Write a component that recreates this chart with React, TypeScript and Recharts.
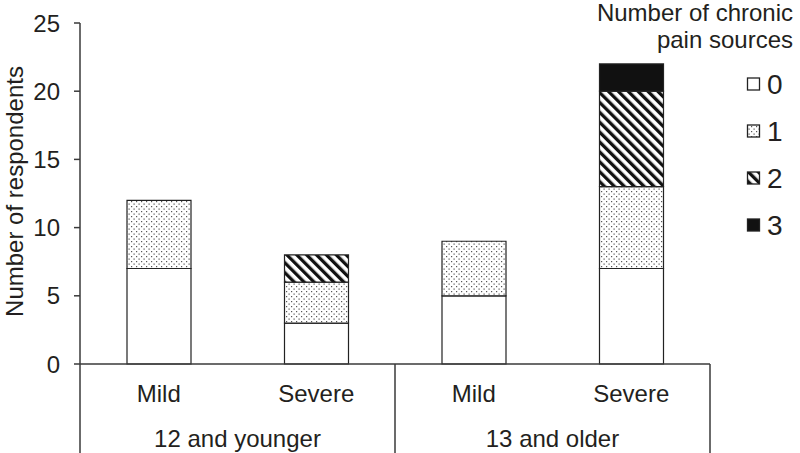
import React from "react";
import { BarChart, Bar, XAxis, YAxis } from "recharts";

const categories = ["Mild", "Severe", "Mild", "Severe"];
const groups = ["12 and younger", "12 and younger", "13 and older", "13 and older"];
const sources0 = [7, 3, 5, 7];
const sources1 = [5, 3, 4, 6];
const sources2 = [0, 2, 0, 7];
const sources3 = [0, 0, 0, 2];
const yTicks = [0, 5, 10, 15, 20, 25];
const legendTitle = ["Number of chronic", "pain sources"];
const legendLabels = ["0", "1", "2", "3"];

const data = categories.map((c, i) => ({
  key: `${groups[i]}-${c}`,
  category: c,
  group: groups[i],
  s0: sources0[i],
  s1: sources1[i],
  s2: sources2[i],
  s3: sources3[i],
}));

const FONT = "'Liberation Sans', Arial, sans-serif";
const TEXT = "#231f20";
const LINE = "#3a3a3a";
const FS = 24;

const fills = ["#ffffff", "url(#dotsC)", "url(#stripesC)", "#111111"];

const Patterns = () => (
  <defs>
    <pattern id="dotsC" width="5" height="5" patternUnits="userSpaceOnUse">
      <rect width="5" height="5" fill="#fff" />
      <rect x="1" y="1" width="1.2" height="1.2" fill="#555" />
      <rect x="3.5" y="3.5" width="1.2" height="1.2" fill="#555" />
    </pattern>
    <pattern id="stripesC" width="7" height="7" patternUnits="userSpaceOnUse" patternTransform="rotate(-45)">
      <rect width="7" height="7" fill="#fff" />
      <rect width="3.3" height="7" fill="#111" />
    </pattern>
  </defs>
);

const CategoryTick = (props: any) => {
  const { x, y, payload, index, width, visibleTicksCount } = props;
  const i = index ?? payload?.index ?? 0;
  const n = visibleTicksCount || categories.length;
  const band = width / n;
  const bottom = 453;
  const els: any[] = [];
  els.push(
    <text key="c" x={x} y={y + 37.5} textAnchor="middle" fontSize={FS} fontFamily={FONT} fill={TEXT}>
      {categories[i]}
    </text>
  );
  if (i % 2 === 0) {
    els.push(
      <text key="g" x={x + band / 2} y={y + 82.5} textAnchor="middle" fontSize={FS} fontFamily={FONT} fill={TEXT}>
        {groups[i]}
      </text>
    );
    els.push(<line key="l" x1={x - band / 2} x2={x - band / 2} y1={y} y2={bottom} stroke={LINE} strokeWidth={1.5} />);
  }
  if (i === n - 1) {
    els.push(<line key="r" x1={x + band / 2} x2={x + band / 2} y1={y} y2={bottom} stroke={LINE} strokeWidth={1.5} />);
  }
  return <g>{els}</g>;
};

const YLabel = (props: any) => {
  const vb = props.viewBox || {};
  const cy = (vb.y ?? 23) + (vb.height ?? 341) / 2 - 2;
  const cx = 14;
  return (
    <text x={cx} y={cy} transform={`rotate(-90, ${cx}, ${cy})`} textAnchor="middle" dominantBaseline="central" fontSize={FS} fontFamily={FONT} fill={TEXT}>
      Number of respondents
    </text>
  );
};

const LegendSvg = () => {
  const itemY = [84, 131, 178, 225];
  return (
    <g className="legend">
      {legendTitle.map((t, k) => (
        <text key={t} x={793} y={21 + k * 27} textAnchor="end" fontSize={FS} fontFamily={FONT} fill={TEXT}>
          {t}
        </text>
      ))}
      {legendLabels.map((l, k) => (
        <g key={l}>
          <rect x={747.5} y={itemY[k] - 6} width={12} height={12} fill={fills[k]} stroke="#222" strokeWidth={1.3} />
          <text x={767} y={itemY[k]} dominantBaseline="central" fontSize={28} fontFamily={FONT} fill={TEXT}>
            {l}
          </text>
        </g>
      ))}
    </g>
  );
};

export default function App() {
  return (
    <div style={{ position: "relative", width: 800, height: 453, background: "#fff", overflow: "visible" }}>
      <style>{`html,body{margin:0;padding:0;background:#fff;}`}</style>
      <BarChart
        width={800}
        height={453}
        data={data}
        margin={{ top: 23, right: 90, bottom: 0, left: 0 }}
        barCategoryGap={0}
        style={{ overflow: "visible" }}
      >
        <Patterns />
        <XAxis
          dataKey="key"
          height={89}
          tickSize={0}
          tickMargin={0}
          tickLine={false}
          axisLine={{ stroke: LINE, strokeWidth: 1.5 }}
          tick={<CategoryTick />}
          interval={0}
        />
        <YAxis
          width={80}
          domain={[0, 25]}
          ticks={yTicks}
          tickSize={6}
          tickMargin={14}
          axisLine={{ stroke: LINE, strokeWidth: 1.5 }}
          tickLine={{ stroke: LINE, strokeWidth: 1.5 }}
          tick={{ fontSize: FS, fontFamily: FONT, fill: TEXT }}
          label={<YLabel />}
        />
        {[0, 1, 2, 3].map((k) => (
          <Bar
            key={k}
            dataKey={`s${k}`}
            stackId="a"
            fill={fills[k]}
            stroke="#222"
            strokeWidth={1.2}
            barSize={64}
            isAnimationActive={false}
          />
        ))}
        <LegendSvg />
      </BarChart>
    </div>
  );
}
